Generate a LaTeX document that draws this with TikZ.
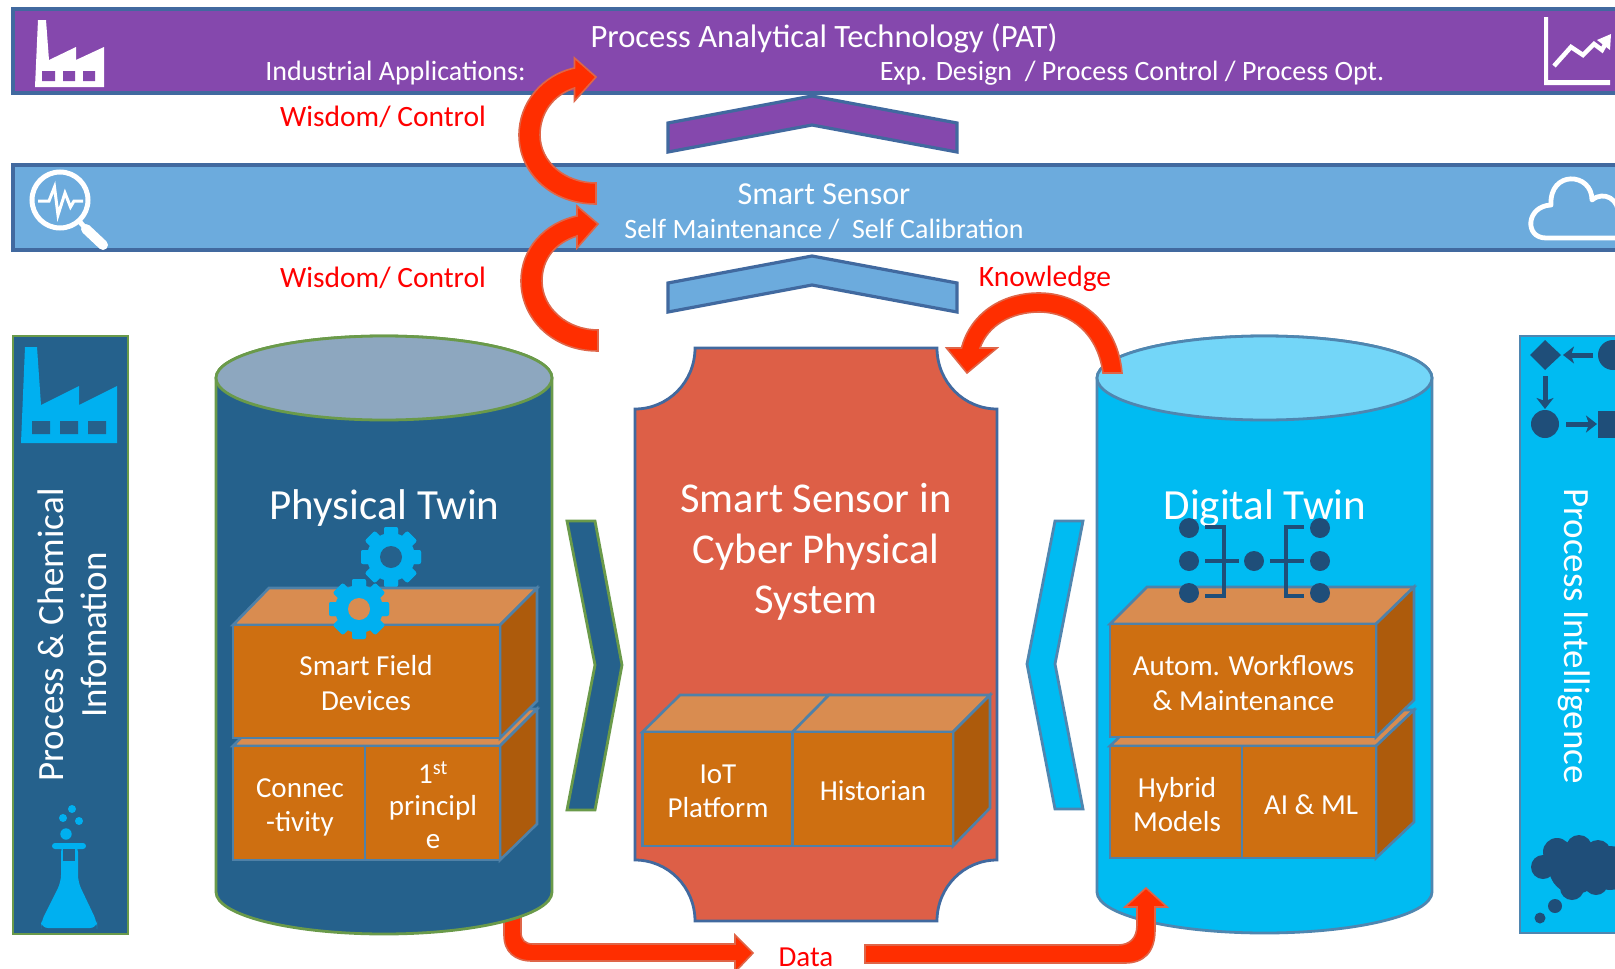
\documentclass[tikz,border=0pt]{standalone}
\usepackage{fontspec}
\setmainfont{Carlito}
\usetikzlibrary{calc,arrows.meta}
\definecolor{barpurple}{HTML}{8548AD}
\definecolor{barblue}{HTML}{6CABDD}
\definecolor{barline}{HTML}{41699F}
\definecolor{darkteal}{HTML}{25618C}
\definecolor{greenline}{HTML}{6A9A4A}
\definecolor{topgrey}{HTML}{8DA7BF}
\definecolor{cyanbody}{HTML}{00BBF2}
\definecolor{cyantop}{HTML}{73D6F8}
\definecolor{cyanline}{HTML}{4F86B0}
\definecolor{iconcyan}{HTML}{00B0F0}
\definecolor{navy}{HTML}{1F4E79}
\definecolor{redfill}{HTML}{DD5F47}
\definecolor{boxfront}{HTML}{CE6F11}
\definecolor{boxtop}{HTML}{D98C50}
\definecolor{boxside}{HTML}{AD5B0C}
\definecolor{boxline}{HTML}{4F81A8}
\definecolor{arrowfill}{HTML}{FF2E00}
\definecolor{arrowline}{HTML}{DF6548}
\newcommand{\gearicon}[3]{%
  \foreach \a in {0,45,...,315}{\fill[iconcyan,rotate around={\a:(#1,#2)},rounded corners=2pt] ($(#1,#2)+(-7,-30)$) rectangle ($(#1,#2)+(7,30)$);}%
  \fill[iconcyan] (#1,#2) circle[radius=24pt];
  \fill[#3] (#1,#2) circle[radius=11pt];}
\tikzset{
  barshape/.style={draw=barline,line width=3.2pt},
  whitetext/.style={text=white,align=center,inner sep=0pt},
  redtext/.style={text=red,inner sep=0pt},
  fsz/.style={font=\fontsize{#1}{#1}\selectfont},
  fsl/.style 2 args={font=\fontsize{#1}{#2}\selectfont},
  bigarrow/.style={fill=arrowfill,draw=arrowline,line width=1.6pt,line join=miter},
  fface/.style={fill=boxfront,draw=boxline,line width=2.6pt,line join=miter},
  tface/.style={fill=boxtop,draw=boxline,line width=2.6pt,line join=miter},
  sface/.style={fill=boxside,draw=boxline,line width=2.6pt,line join=miter},
  greenshape/.style={fill=darkteal,draw=greenline,line width=2.8pt},
  cyanshape/.style={fill=cyanbody,draw=cyanline,line width=2.8pt},
  netline/.style={draw=navy,line width=4.5pt},
  flowline/.style={draw=navy,line width=5pt,-{Stealth[length=11pt,width=17pt,inset=3pt]}},
}
\begin{document}
\begin{tikzpicture}[x=1pt,y=-1pt]
\useasboundingbox (0,0) rectangle (1615,969);
\clip (0,0) rectangle (1615,969);
\fill[white] (0,0) rectangle (1615,969);
% bars
\fill[barpurple,barshape] (13,9) rectangle (1640,93);
\fill[barblue,barshape] (13,165) rectangle (1640,250);
% chevrons up
\fill[barpurple,barshape] (668,123) -- (812,96) -- (957,123) -- (957,152) -- (812,125) -- (668,152) -- cycle;
\fill[barblue,barshape] (668,283) -- (812,256) -- (957,283) -- (957,312) -- (812,285) -- (668,312) -- cycle;
% top bar factory icon
\fill[white] (35,87) -- (38,20) -- (46,20) -- (49,60) -- (76,47) -- (76,60) -- (104,47) -- (104,87) -- cycle;
\fill[barpurple] (42,71) rectangle (55,81) (63,71) rectangle (75,81) (83,71) rectangle (95,81);
% chart icon
\fill[white] (1544,17) -- (1548,17) -- (1548,80) -- (1610,80) -- (1610,85) -- (1544,85) -- cycle;
\draw[white,line width=4.5pt] (1554,66) -- (1571,47) -- (1583,55) -- (1594,44) -- (1602,50) -- (1607,41);
\fill[white] (1611,34) -- (1610,50) -- (1597,40) -- cycle;
% search icon
\draw[white,line width=5pt] (60,200) circle[radius=28pt];
\draw[white,line width=3pt] (38,201) -- (49,201) -- (54.5,187) -- (58,215) -- (65,193) -- (70.5,207) -- (74,201) -- (83,201);
\draw[white,line width=5pt] (80,222) -- (86,229);
\draw[white,line width=10pt,line cap=round] (86,229) -- (103,245);
% cloud icon
\draw[white,line width=4.8pt,line join=round] (1640,238) -- (1546,238) .. controls (1524,238) and (1526,206) .. (1551,205) .. controls (1549,170) and (1592,172) .. (1592,200) .. controls (1604,190) and (1620,200) .. (1618,215);
% bar texts
\node[whitetext,fsz=32.6] (pat) at (824,38) {Process Analytical Technology (PAT)};
\node[whitetext,fsz=28] (ind) at (395.5,73) {Industrial Applications:};
\node[whitetext,fsz=28] (exp) at (1132,73) {Exp. Design~ / Process Control / Process Opt.};
\node[whitetext,fsz=32] (ss) at (824,194.5) {Smart Sensor};
\node[whitetext,fsz=28] (self) at (824,229) {Self Maintenance /~ Self Calibration};
\node[redtext,fsz=29.5] (w1) at (383,117) {Wisdom/ Control};
\node[redtext,fsz=29.5] (w2) at (383,278) {Wisdom/ Control};
\node[redtext,fsz=29.5] (kn) at (1045,279) {Knowledge};
\node[redtext,fsz=29] (data) at (806,957) {Data};
% left panel
\fill[greenshape] (13,336) rectangle (128,934);
\fill[iconcyan] (21,443) -- (25,347) -- (37,347) -- (41,405) -- (79,386) -- (79,405) -- (117,386) -- (117,443) -- cycle;
\fill[darkteal] (32,421) rectangle (50,434) (60,421) rectangle (78,434) (88,421) rectangle (106,434);
\node[whitetext,rotate=90,fsl={37}{43}] (pci) at (72,635) {Process \& Chemical\\Infomation};
% flask
\fill[iconcyan,rounded corners=3pt] (52,843) rectangle (86,849);
\fill[iconcyan,rounded corners=7pt] (61,845) -- (78,845) -- (78,882) -- (97,922) -- (97,928) -- (41,928) -- (41,922) -- (61,882) -- cycle;
\fill[darkteal] (63,849) rectangle (75,861);
\fill[iconcyan] (66,834) circle[radius=5.7pt] (63,818) circle[radius=4pt] (79,821) circle[radius=4pt] (72,809) circle[radius=4pt];
% right panel
\fill[cyanshape] (1520,336) rectangle (1640,933);
\fill[navy] (1545,340) -- (1561,355) -- (1545,370) -- (1530,355) -- cycle;
\fill[navy] (1613,355) circle[radius=15pt];
\coordinate (f1) at (1593,355); \coordinate (f2) at (1563,355);
\draw[flowline] (f1) -- (f2);
\coordinate (f3) at (1545,376); \coordinate (f4) at (1545,409);
\draw[flowline] (f3) -- (f4);
\fill[navy] (1545,424) circle[radius=14pt];
\coordinate (f5) at (1566,424); \coordinate (f6) at (1597,424);
\draw[flowline] (f5) -- (f6);
\fill[navy] (1598,411) rectangle (1640,438);
\node[whitetext,rotate=-90,fsz=37] (pi) at (1574,636) {Process Intelligence};
\fill[navy] (1575,868) circle[radius=26pt] (1610,868) circle[radius=22pt]
 (1543,867) circle[radius=12pt] (1557,852) circle[radius=14pt] (1579,848) circle[radius=13pt] (1598,853) circle[radius=13pt] (1572,888) circle[radius=12pt] (1596,883) circle[radius=12pt]
 (1555,906) circle[radius=7pt] (1540,918) circle[radius=5.5pt];
% data arrow left, under the cylinder
\path[bigarrow] (504,900) -- (504,935) .. controls (504,952) and (515,961) .. (532,961) -- (735,961) -- (735,972) -- (753,953) -- (735,935) -- (735,944) -- (533,944) .. controls (525,944) and (521,940) .. (521,932) -- (521,900) -- cycle;
% physical twin
\path[greenshape] (216,378) -- (216,892) arc[start angle=180,end angle=360,x radius=168pt,y radius=42pt] -- (552,378) arc[start angle=0,end angle=180,x radius=168pt,y radius=42pt] -- cycle;
\draw[fill=topgrey,draw=greenline,line width=2.8pt] (384,378) ellipse[x radius=168pt,y radius=42pt];
\node[whitetext,fsz=43] (pt) at (384.5,508.5) {Physical Twin};
\gearicon{391}{557}{darkteal}
% physical blocks
\path[tface] (233,746) -- (269,709) -- (537,709) -- (500,746) -- cycle;
\path[sface] (500,746) -- (537,709) -- (537,824) -- (500,860) -- cycle;
\path[fface] (233,746) rectangle (365,860);
\path[fface] (365,746) rectangle (500,860);
\path[tface] (233,625) -- (269,588) -- (537,588) -- (500,625) -- cycle;
\path[sface] (500,625) -- (537,588) -- (537,701) -- (500,738) -- cycle;
\path[fface] (233,625) rectangle (500,738);
\gearicon{359}{609}{boxtop}
\node[whitetext,fsl={29}{35}] (sfd) at (366,683.5) {Smart Field\\Devices};
\node[whitetext,fsl={29}{34}] (con) at (300,807) {Connec\\-tivity};
\node[whitetext,fsl={29}{32.5}] (prin) at (433,805) {1\textsuperscript{st}\\principl\\e};
% right chevron
\path[greenshape] (567,521) -- (595,521) -- (622,665) -- (595,810) -- (567,810) -- (595,665) -- cycle;
% centre plaque
\path[fill=redfill,draw=barline,line width=2.8pt] (635,409) .. controls (668,409) and (695,382) .. (695,348) -- (937,348) .. controls (937,382) and (964,409) .. (997,409) -- (997,860) .. controls (964,860) and (937,887) .. (937,921) -- (695,921) .. controls (695,887) and (668,860) .. (635,860) -- cycle;
\node[whitetext,fsl={42.5}{50.5}] (cps) at (816,552) {Smart Sensor in\\Cyber Physical\\System};
\path[tface] (642.5,732) -- (680,695) -- (829,695) -- (792.5,732) -- cycle;
\path[tface] (792.5,732) -- (829,695) -- (990,695) -- (953,732) -- cycle;
\path[sface] (953,732) -- (990,695) -- (990,808) -- (953,846) -- cycle;
\path[fface] (642.5,732) rectangle (792.5,846);
\path[fface] (792.5,732) rectangle (953,846);
\node[whitetext,fsl={29}{34}] (iot) at (718,791) {IoT\\Platform};
\node[whitetext,fsz=29] (hist) at (873,791) {Historian};
% left chevron
\path[cyanshape] (1083,521) -- (1055,521) -- (1027,664) -- (1055,809) -- (1083,809) -- (1055,664) -- cycle;
% digital twin
\path[cyanshape] (1097,378) -- (1097,892) arc[start angle=180,end angle=360,x radius=167.5pt,y radius=41pt] -- (1432,378) arc[start angle=0,end angle=180,x radius=167.5pt,y radius=42pt] -- cycle;
\draw[fill=cyantop,draw=cyanline,line width=2.8pt] (1264.5,378) ellipse[x radius=167.5pt,y radius=42pt];
\node[whitetext,fsz=43] (dt) at (1265,508.5) {Digital Twin};
\path[tface] (1110,746) -- (1147,710) -- (1414,710) -- (1376,746) -- cycle;
\path[sface] (1376,746) -- (1414,710) -- (1414,822) -- (1376,858) -- cycle;
\path[fface] (1110,746) rectangle (1242,858);
\path[fface] (1242,746) rectangle (1376,858);
\path[tface] (1110,624) -- (1147,587) -- (1414,587) -- (1376,624) -- cycle;
\path[sface] (1376,624) -- (1414,587) -- (1414,700) -- (1376,737) -- cycle;
\path[fface] (1110,624) rectangle (1376,737);
\node[whitetext,fsl={29}{35}] (awm) at (1243.5,683) {Autom. Workflows\\\& Maintenance};
\node[whitetext,fsl={29}{34}] (hyb) at (1177,805) {Hybrid\\Models};
\node[whitetext,fsz=29] (aiml) at (1311,805) {AI \& ML};
% network icon
\draw[netline] (1205,527) -- (1224,527) -- (1224,596) -- (1205,596);
\draw[netline] (1205,561) -- (1239,561);
\draw[netline] (1304,527) -- (1286,527) -- (1286,596) -- (1304,596);
\draw[netline] (1270,561) -- (1304,561);
\fill[navy] (1189,528) circle[radius=10pt] (1189,561) circle[radius=10pt] (1189,593) circle[radius=10pt]
 (1254,561) circle[radius=10pt] (1320,528) circle[radius=10pt] (1320,561) circle[radius=10pt] (1320,593) circle[radius=10pt];
% red arrows
\path[bigarrow] (596,204) .. controls (550,204) and (519,172) .. (519,135) .. controls (519,103) and (542,75) .. (574.5,68) -- (574.5,58) -- (596,77) -- (574.5,101) -- (574.5,88) .. controls (553,95) and (540,113) .. (540,135) .. controls (540,162) and (565,183) .. (596,183) -- cycle;
\path[bigarrow] (598,351) .. controls (552,351) and (521,318) .. (521,281) .. controls (521,249) and (544,223) .. (577,216) -- (577,206) -- (598,224) -- (577,248) -- (577,236) .. controls (555,243) and (542,259) .. (542,281) .. controls (542,308) and (567,330) .. (598,330) -- cycle;
\path[bigarrow] (1122,373) .. controls (1118,325) and (1082,293) .. (1039,293) .. controls (1000,293) and (970,315) .. (961.5,348) -- (946.5,348) -- (967,373) -- (997,348) -- (980,348) .. controls (988,325) and (1012,312) .. (1039,312) .. controls (1072,312) and (1098,335) .. (1103,373) -- cycle;
\path[bigarrow] (865,945) -- (1118,945) .. controls (1130,945) and (1137,938) .. (1137,925) -- (1137,907) -- (1125,907) -- (1146,888) -- (1167,907) -- (1155,907) -- (1155,930) .. controls (1155,952) and (1144,963) .. (1125,963) -- (865,963) -- cycle;
\end{tikzpicture}
\end{document}
